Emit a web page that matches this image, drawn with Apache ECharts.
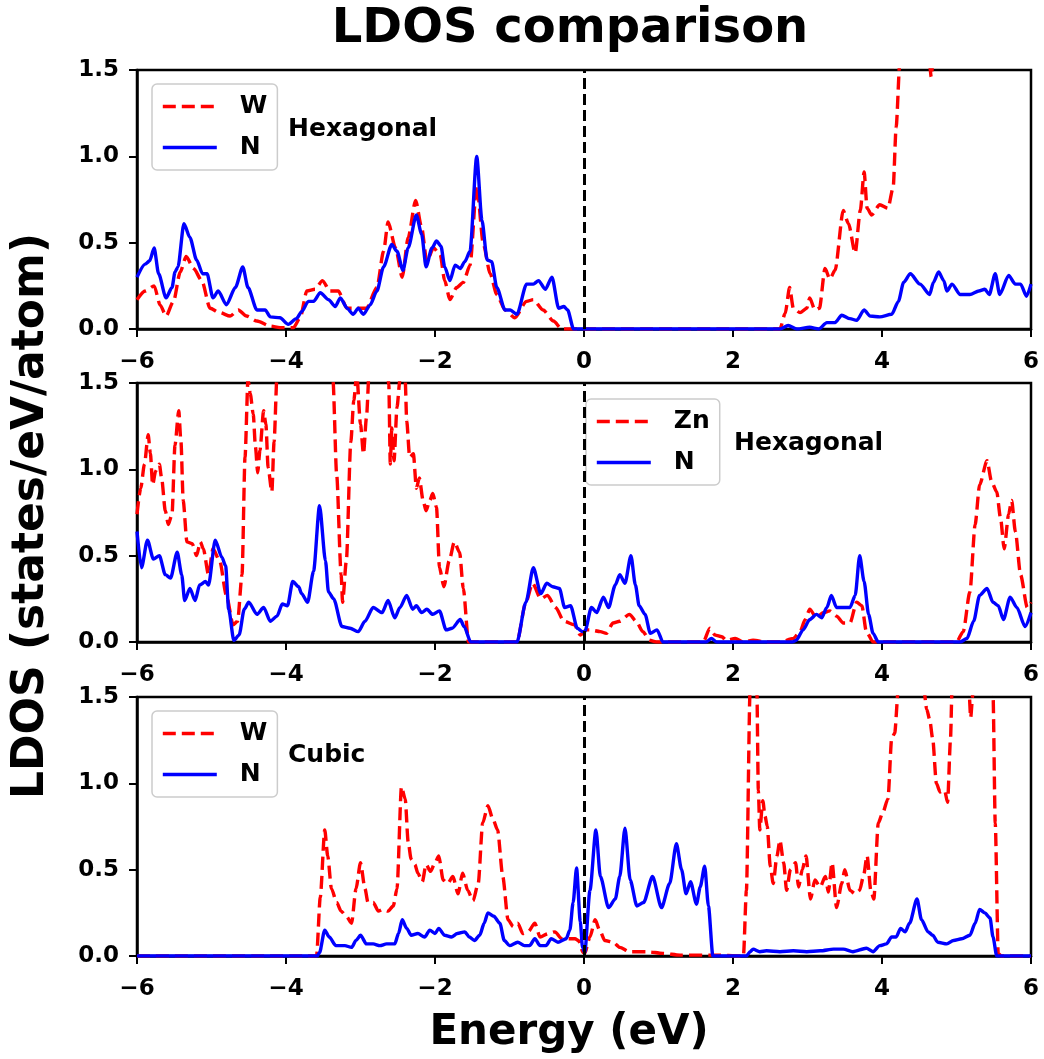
<!DOCTYPE html>
<html>
<head>
<meta charset="utf-8">
<title>LDOS comparison</title>
<script src="https://cdn.jsdelivr.net/npm/echarts@6/dist/echarts.min.js"></script>
<style>
  html, body { margin: 0; padding: 0; background: #fff; }
  #chart { width: 1044px; height: 1059px; }
</style>
</head>
<body>
<div id="chart"></div>
<script>
// Energy axis and LDOS axis ticks
const energyTicks = [-6, -4, -2, 0, 2, 4, 6];
const ldosTicks = [0.0, 0.5, 1.0, 1.5];

// Panel titles and legend names
const panelNames = ['Hexagonal', 'Hexagonal', 'Cubic'];
const metalNames = ['W', 'Zn', 'W'];

// Hexagonal WN: W and N projected DOS, [energy (eV), LDOS]
const hexW = [[-6.0,0.17],[-5.89,0.22],[-5.77,0.25],[-5.69,0.14],[-5.61,0.075],[-5.51,0.16],[-5.42,0.33],[-5.34,0.42],[-5.24,0.35],[-5.13,0.28],[-5.02,0.12],[-4.89,0.095],[-4.75,0.075],[-4.64,0.11],[-4.53,0.075],[-4.39,0.046],[-4.21,0.017],[-4.08,0.008],[-3.90,0.008],[-3.81,0.065],[-3.72,0.22],[-3.61,0.23],[-3.51,0.28],[-3.41,0.22],[-3.30,0.22],[-3.18,0.12],[-3.05,0.12],[-2.92,0.12],[-2.78,0.24],[-2.69,0.45],[-2.63,0.62],[-2.53,0.47],[-2.44,0.30],[-2.36,0.53],[-2.26,0.745],[-2.18,0.59],[-2.11,0.39],[-2.02,0.47],[-1.93,0.43],[-1.87,0.28],[-1.80,0.17],[-1.71,0.24],[-1.62,0.27],[-1.53,0.37],[-1.44,0.83],[-1.35,0.49],[-1.26,0.32],[-1.17,0.20],[-1.06,0.11],[-0.93,0.065],[-0.77,0.16],[-0.68,0.17],[-0.55,0.11],[-0.41,0.046],[-0.30,0.0],[2.63,0.0],[2.70,0.09],[2.76,0.24],[2.81,0.12],[2.90,0.095],[2.99,0.12],[3.03,0.18],[3.10,0.11],[3.16,0.12],[3.235,0.35],[3.30,0.29],[3.37,0.34],[3.48,0.686],[3.55,0.61],[3.64,0.44],[3.71,0.69],[3.76,0.91],[3.80,0.70],[3.86,0.66],[3.97,0.72],[4.08,0.70],[4.15,0.82],[4.19,1.17],[4.24,1.55],[4.35,2.1],[4.5,2.5],[4.6,1.9],[4.64,1.53],[4.66,1.46],[4.68,1.53],[4.75,2.1],[5.0,2.6],[5.5,2.9],[6.0,3.0]];
const hexN = [[-6.0,0.30],[-5.89,0.376],[-5.83,0.395],[-5.77,0.47],[-5.71,0.32],[-5.61,0.18],[-5.53,0.24],[-5.49,0.33],[-5.45,0.36],[-5.37,0.61],[-5.29,0.53],[-5.20,0.40],[-5.12,0.32],[-5.06,0.32],[-4.98,0.18],[-4.91,0.22],[-4.80,0.14],[-4.68,0.24],[-4.58,0.36],[-4.51,0.24],[-4.39,0.11],[-4.28,0.11],[-4.21,0.07],[-4.08,0.065],[-3.97,0.027],[-3.86,0.06],[-3.79,0.10],[-3.70,0.16],[-3.63,0.16],[-3.54,0.21],[-3.43,0.17],[-3.34,0.13],[-3.27,0.18],[-3.18,0.12],[-3.10,0.085],[-3.03,0.12],[-2.96,0.085],[-2.87,0.14],[-2.78,0.22],[-2.69,0.36],[-2.58,0.49],[-2.51,0.45],[-2.43,0.34],[-2.36,0.47],[-2.25,0.66],[-2.18,0.55],[-2.12,0.36],[-2.04,0.47],[-1.98,0.51],[-1.92,0.48],[-1.87,0.36],[-1.80,0.28],[-1.73,0.37],[-1.66,0.35],[-1.60,0.39],[-1.53,0.45],[-1.44,1.0],[-1.37,0.63],[-1.30,0.40],[-1.24,0.39],[-1.17,0.24],[-1.06,0.11],[-0.99,0.11],[-0.90,0.085],[-0.77,0.26],[-0.68,0.26],[-0.61,0.28],[-0.52,0.23],[-0.43,0.30],[-0.34,0.12],[-0.27,0.13],[-0.22,0.11],[-0.14,0.0],[2.63,0.0],[2.74,0.02],[2.86,0.0],[3.03,0.01],[3.15,0.0],[3.26,0.037],[3.37,0.037],[3.46,0.08],[3.57,0.06],[3.66,0.05],[3.76,0.11],[3.84,0.075],[3.97,0.07],[4.13,0.085],[4.22,0.16],[4.29,0.27],[4.38,0.32],[4.51,0.26],[4.64,0.20],[4.69,0.27],[4.76,0.33],[4.83,0.28],[4.87,0.22],[4.94,0.26],[5.05,0.20],[5.18,0.20],[5.30,0.22],[5.38,0.23],[5.44,0.20],[5.52,0.32],[5.58,0.20],[5.70,0.31],[5.79,0.26],[5.86,0.26],[5.94,0.19],[6.0,0.26]];

// Hexagonal ZnN: Zn and N projected DOS
const hexZn = [[-6.0,0.74],[-5.95,0.89],[-5.90,1.03],[-5.85,1.20],[-5.82,1.09],[-5.79,0.91],[-5.75,0.99],[-5.70,1.03],[-5.67,0.95],[-5.62,0.76],[-5.58,0.68],[-5.53,0.74],[-5.49,1.14],[-5.44,1.34],[-5.41,1.16],[-5.38,0.82],[-5.33,0.58],[-5.26,0.57],[-5.20,0.50],[-5.15,0.58],[-5.11,0.54],[-5.04,0.39],[-4.98,0.54],[-4.89,0.47],[-4.80,0.27],[-4.71,0.10],[-4.65,0.12],[-4.59,0.39],[-4.55,1.07],[-4.51,1.52],[-4.48,1.44],[-4.44,1.32],[-4.41,1.13],[-4.38,0.98],[-4.35,1.11],[-4.30,1.34],[-4.27,1.26],[-4.24,1.01],[-4.19,0.87],[-4.16,1.16],[-4.12,1.55],[-4.0,2.2],[-3.8,2.6],[-3.6,2.4],[-3.45,1.9],[-3.37,1.52],[-3.32,0.97],[-3.26,0.39],[-3.24,0.23],[-3.19,0.47],[-3.13,1.16],[-3.09,1.40],[-3.05,1.55],[-3.0,1.26],[-2.96,1.09],[-2.92,1.3],[-2.88,1.6],[-2.75,2.2],[-2.64,1.6],[-2.62,1.49],[-2.60,1.03],[-2.58,1.24],[-2.55,1.05],[-2.51,1.36],[-2.47,1.52],[-2.43,1.7],[-2.40,1.52],[-2.38,1.28],[-2.34,1.07],[-2.29,1.09],[-2.25,0.89],[-2.21,0.95],[-2.16,0.82],[-2.12,0.76],[-2.07,0.82],[-2.03,0.86],[-1.98,0.78],[-1.94,0.43],[-1.88,0.32],[-1.81,0.47],[-1.74,0.58],[-1.67,0.52],[-1.62,0.31],[-1.55,0.0],[-0.90,0.0],[-0.78,0.23],[-0.69,0.34],[-0.58,0.25],[-0.49,0.27],[-0.38,0.20],[-0.27,0.12],[-0.13,0.10],[-0.05,0.04],[0.03,0.07],[0.08,0.07],[0.22,0.06],[0.30,0.05],[0.39,0.11],[0.48,0.12],[0.61,0.16],[0.70,0.12],[0.79,0.06],[0.88,0.01],[0.97,0.0],[1.60,0.0],[1.69,0.08],[1.76,0.04],[1.85,0.03],[1.91,0.01],[2.03,0.02],[2.14,0.0],[2.27,0.01],[2.45,0.0],[2.63,0.0],[2.81,0.02],[2.90,0.06],[2.97,0.13],[3.03,0.19],[3.12,0.14],[3.21,0.17],[3.30,0.18],[3.39,0.15],[3.48,0.11],[3.57,0.11],[3.66,0.23],[3.73,0.21],[3.79,0.06],[3.88,0.0],[5.00,0.0],[5.09,0.06],[5.18,0.29],[5.25,0.68],[5.31,0.91],[5.41,1.05],[5.47,0.93],[5.54,0.87],[5.59,0.72],[5.64,0.54],[5.70,0.74],[5.74,0.82],[5.79,0.64],[5.86,0.39],[5.95,0.20],[6.0,0.23]];
const hexZnN = [[-6.0,0.64],[-5.94,0.43],[-5.86,0.59],[-5.78,0.48],[-5.70,0.50],[-5.62,0.39],[-5.55,0.37],[-5.46,0.52],[-5.40,0.39],[-5.36,0.24],[-5.29,0.31],[-5.22,0.24],[-5.16,0.33],[-5.08,0.35],[-5.04,0.33],[-4.95,0.59],[-4.86,0.49],[-4.81,0.44],[-4.77,0.19],[-4.70,0.01],[-4.63,0.04],[-4.56,0.19],[-4.50,0.23],[-4.39,0.16],[-4.30,0.20],[-4.21,0.12],[-4.12,0.15],[-4.05,0.22],[-3.98,0.21],[-3.91,0.35],[-3.83,0.32],[-3.79,0.28],[-3.71,0.23],[-3.63,0.41],[-3.55,0.79],[-3.47,0.47],[-3.43,0.29],[-3.36,0.25],[-3.25,0.09],[-3.14,0.08],[-3.03,0.06],[-2.94,0.12],[-2.83,0.20],[-2.71,0.17],[-2.63,0.24],[-2.54,0.14],[-2.47,0.20],[-2.38,0.27],[-2.30,0.19],[-2.25,0.21],[-2.18,0.17],[-2.11,0.19],[-2.03,0.16],[-1.94,0.18],[-1.85,0.07],[-1.77,0.08],[-1.66,0.13],[-1.61,0.09],[-1.52,0.0],[-0.90,0.0],[-0.78,0.23],[-0.68,0.43],[-0.58,0.28],[-0.50,0.34],[-0.42,0.32],[-0.33,0.31],[-0.26,0.20],[-0.18,0.21],[-0.09,0.08],[-0.02,0.06],[0.01,0.06],[0.10,0.20],[0.17,0.17],[0.26,0.26],[0.33,0.20],[0.42,0.33],[0.48,0.39],[0.55,0.34],[0.63,0.50],[0.69,0.33],[0.74,0.21],[0.82,0.16],[0.89,0.05],[0.98,0.07],[1.06,0.0],[1.64,0.0],[1.71,0.02],[1.78,0.0],[2.80,0.0],[2.85,0.01],[2.94,0.07],[3.03,0.13],[3.12,0.16],[3.19,0.14],[3.26,0.20],[3.32,0.27],[3.39,0.20],[3.48,0.20],[3.57,0.20],[3.64,0.27],[3.70,0.50],[3.76,0.35],[3.82,0.16],[3.88,0.05],[3.95,0.0],[5.05,0.0],[5.14,0.02],[5.23,0.12],[5.31,0.27],[5.41,0.31],[5.49,0.23],[5.56,0.21],[5.63,0.13],[5.72,0.26],[5.81,0.20],[5.92,0.09],[6.0,0.17]];

// Cubic WN: W and N projected DOS
const cubW = [[-6.0,0.0],[-3.59,0.0],[-3.54,0.34],[-3.48,0.73],[-3.44,0.58],[-3.39,0.39],[-3.32,0.31],[-3.26,0.26],[-3.19,0.23],[-3.12,0.19],[-3.06,0.39],[-3.00,0.54],[-2.94,0.39],[-2.90,0.31],[-2.83,0.31],[-2.76,0.26],[-2.70,0.27],[-2.63,0.26],[-2.56,0.29],[-2.51,0.39],[-2.45,0.98],[-2.40,0.91],[-2.36,0.66],[-2.32,0.56],[-2.27,0.53],[-2.23,0.48],[-2.17,0.43],[-2.12,0.53],[-2.06,0.49],[-2.00,0.54],[-1.95,0.58],[-1.89,0.44],[-1.83,0.42],[-1.76,0.46],[-1.69,0.36],[-1.63,0.48],[-1.56,0.38],[-1.49,0.32],[-1.42,0.42],[-1.36,0.77],[-1.29,0.87],[-1.22,0.79],[-1.16,0.73],[-1.09,0.46],[-1.02,0.21],[-0.95,0.17],[-0.89,0.19],[-0.82,0.13],[-0.75,0.14],[-0.66,0.19],[-0.59,0.11],[-0.48,0.13],[-0.39,0.14],[-0.30,0.10],[-0.21,0.10],[-0.12,0.10],[-0.076,0.09],[-0.01,0.02],[0.01,0.015],[0.08,0.11],[0.15,0.21],[0.21,0.15],[0.28,0.09],[0.39,0.08],[0.48,0.05],[0.61,0.025],[0.84,0.025],[1.06,0.015],[1.29,0.005],[1.73,0.005],[2.14,0.0],[2.18,0.38],[2.23,1.55],[2.27,2.0],[2.32,1.55],[2.34,0.96],[2.36,0.73],[2.40,0.90],[2.43,0.81],[2.46,0.75],[2.50,0.52],[2.54,0.42],[2.59,0.58],[2.63,0.67],[2.68,0.54],[2.72,0.38],[2.77,0.50],[2.84,0.54],[2.88,0.40],[2.93,0.50],[2.98,0.58],[3.04,0.33],[3.10,0.44],[3.17,0.40],[3.24,0.46],[3.28,0.37],[3.33,0.54],[3.39,0.28],[3.46,0.42],[3.50,0.50],[3.57,0.38],[3.64,0.36],[3.70,0.38],[3.75,0.46],[3.80,0.58],[3.85,0.38],[3.89,0.33],[3.95,0.77],[4.01,0.83],[4.08,0.91],[4.13,1.26],[4.17,1.29],[4.22,1.55],[4.35,2.2],[4.45,2.4],[4.56,1.55],[4.60,1.43],[4.64,1.37],[4.68,1.26],[4.73,1.00],[4.78,0.95],[4.84,0.96],[4.88,0.89],[4.92,1.26],[4.94,1.55],[5.05,2.2],[5.17,1.52],[5.19,1.38],[5.22,1.52],[5.35,2.2],[5.49,1.52],[5.52,0.77],[5.56,0.015],[5.60,0.0],[6.0,0.0]];
const cubN = [[-6.0,0.0],[-3.58,0.0],[-3.55,0.02],[-3.48,0.15],[-3.42,0.11],[-3.33,0.06],[-3.21,0.06],[-3.12,0.05],[-3.06,0.09],[-3.00,0.12],[-2.92,0.07],[-2.83,0.07],[-2.74,0.06],[-2.65,0.07],[-2.54,0.07],[-2.49,0.13],[-2.44,0.21],[-2.38,0.16],[-2.32,0.12],[-2.23,0.13],[-2.14,0.11],[-2.07,0.15],[-2.00,0.13],[-1.95,0.16],[-1.87,0.12],[-1.78,0.11],[-1.70,0.13],[-1.60,0.14],[-1.54,0.11],[-1.47,0.09],[-1.40,0.12],[-1.34,0.19],[-1.29,0.25],[-1.21,0.23],[-1.13,0.19],[-1.07,0.09],[-1.00,0.06],[-0.89,0.08],[-0.80,0.06],[-0.73,0.06],[-0.66,0.10],[-0.59,0.06],[-0.51,0.06],[-0.44,0.10],[-0.35,0.08],[-0.24,0.10],[-0.19,0.15],[-0.146,0.31],[-0.10,0.51],[-0.05,0.20],[-0.02,0.05],[0.01,0.02],[0.08,0.38],[0.16,0.73],[0.22,0.46],[0.33,0.28],[0.42,0.33],[0.48,0.46],[0.55,0.74],[0.62,0.44],[0.71,0.29],[0.80,0.31],[0.92,0.46],[1.04,0.28],[1.15,0.42],[1.24,0.65],[1.31,0.50],[1.37,0.36],[1.43,0.43],[1.51,0.30],[1.56,0.40],[1.62,0.52],[1.67,0.29],[1.73,0.0],[2.18,0.0],[2.23,0.025],[2.27,0.04],[2.36,0.025],[2.45,0.03],[2.63,0.025],[2.81,0.03],[2.99,0.025],[3.17,0.03],[3.35,0.04],[3.48,0.04],[3.61,0.025],[3.79,0.045],[3.88,0.025],[3.97,0.06],[4.06,0.07],[4.13,0.11],[4.19,0.11],[4.25,0.16],[4.31,0.14],[4.37,0.19],[4.47,0.33],[4.53,0.21],[4.62,0.14],[4.68,0.12],[4.75,0.08],[4.87,0.07],[4.96,0.09],[5.07,0.10],[5.18,0.12],[5.25,0.19],[5.31,0.27],[5.38,0.25],[5.45,0.22],[5.49,0.11],[5.54,0.0],[6.0,0.0]];

const metalData = [hexW, hexZn, cubW];
const nitrogenData = [hexN, hexZnN, cubN];

const FONT = '"DejaVu Sans", "Liberation Sans", sans-serif';
const RED = '#ff0000';
const BLUE = '#0000ff';
const gridTops = [70, 383, 697];
const gridHeight = 259;

const chart = echarts.init(document.getElementById('chart'), null, { renderer: 'canvas' });

const grids = gridTops.map(t => ({
  left: 137, right: 13, top: t, height: gridHeight,
  show: true, borderColor: '#000', borderWidth: 2.5, backgroundColor: 'transparent',
  containLabel: false
}));

const tickLabelStyle = { color: '#000', fontSize: 23, fontWeight: 'bold', fontFamily: FONT };

const xAxes = gridTops.map((t, i) => ({
  type: 'value', gridIndex: i,
  min: energyTicks[0], max: energyTicks[energyTicks.length - 1], interval: 2,
  axisLine: { show: true, onZero: false, lineStyle: { color: '#000', width: 2.5 } },
  axisTick: { show: true, inside: false, length: 8, lineStyle: { color: '#000', width: 2 } },
  axisLabel: Object.assign({ margin: 22, formatter: v => String(v).replace('-', '\u2212') }, tickLabelStyle),
  splitLine: { show: false }
}));

const yAxes = gridTops.map((t, i) => ({
  type: 'value', gridIndex: i,
  min: ldosTicks[0], max: ldosTicks[ldosTicks.length - 1], interval: 0.5,
  axisLine: { show: true, onZero: false, lineStyle: { color: '#000', width: 2.5 } },
  axisTick: { show: true, inside: false, length: 8, lineStyle: { color: '#000', width: 2 } },
  axisLabel: Object.assign({ margin: 18, formatter: v => v.toFixed(1) }, tickLabelStyle),
  splitLine: { show: false }
}));

const series = [];
for (let i = 0; i < 3; i++) {
  series.push({
    name: metalNames[i], type: 'line', xAxisIndex: i, yAxisIndex: i,
    data: metalData[i], symbol: 'none', smooth: 0.25, smoothMonotone: 'x',
    lineStyle: { color: RED, width: 3.4, type: [13, 6] },
    itemStyle: { color: RED },
    z: 3, animation: false, silent: true,
    markLine: {
      silent: true, symbol: 'none', animation: false,
      label: { show: false },
      lineStyle: { color: '#000', width: 3, type: [11, 5] },
      data: [{ xAxis: 0 }]
    }
  });
  series.push({
    name: 'N', type: 'line', xAxisIndex: i, yAxisIndex: i,
    data: nitrogenData[i], symbol: 'none', smooth: 0.25, smoothMonotone: 'x',
    lineStyle: { color: BLUE, width: 3.4, type: 'solid' },
    itemStyle: { color: BLUE },
    z: 4, animation: false, silent: true
  });
}

// Legend keys are line samples only: the marker part of the key is made fully transparent
function makeLegend(names, left, top) {
  return {
    data: names, orient: 'vertical', left: left, top: top,
    selectedMode: false,
    itemStyle: { opacity: 0, borderWidth: 0 },
    lineStyle: { width: 3.6 },
    padding: [10, 10, 10, 9],
    itemWidth: 54, itemHeight: 25, itemGap: 16,
    backgroundColor: 'rgba(255,255,255,0.8)',
    borderColor: '#cccccc', borderWidth: 1.5, borderRadius: 5,
    textStyle: { color: '#000', fontSize: 25, fontWeight: 'bold', fontFamily: FONT, lineHeight: 25, padding: [0, 0, 0, 18] }
  };
}

const textFont = 'bold 25px ' + FONT;
const option = {
  animation: false,
  backgroundColor: '#fff',
  grid: grids,
  xAxis: xAxes,
  yAxis: yAxes,
  series: series,
  legend: [
    makeLegend(['W', 'N'], 152, 84),
    makeLegend(['Zn', 'N'], 586, 399),
    makeLegend(['W', 'N'], 152, 711)
  ],
  graphic: [
    { type: 'text', x: 570, y: 30, style: { text: 'LDOS comparison', font: 'bold 48px ' + FONT, fill: '#000', textAlign: 'center', textVerticalAlign: 'middle' } },
    { type: 'text', x: 569, y: 1033, style: { text: 'Energy (eV)', font: 'bold 42px ' + FONT, fill: '#000', textAlign: 'center', textVerticalAlign: 'middle' } },
    { type: 'text', x: 32, y: 516, rotation: Math.PI / 2, style: { text: 'LDOS (states/eV/atom)', font: 'bold 44px ' + FONT, fill: '#000', textAlign: 'center', textVerticalAlign: 'middle' } },
    { type: 'text', x: 288, y: 129, style: { text: panelNames[0], font: textFont, fill: '#000', textAlign: 'left', textVerticalAlign: 'middle' } },
    { type: 'text', x: 734, y: 443, style: { text: panelNames[1], font: textFont, fill: '#000', textAlign: 'left', textVerticalAlign: 'middle' } },
    { type: 'text', x: 288, y: 755, style: { text: panelNames[2], font: textFont, fill: '#000', textAlign: 'left', textVerticalAlign: 'middle' } }
  ]
};

chart.setOption(option);
</script>
</body>
</html>
